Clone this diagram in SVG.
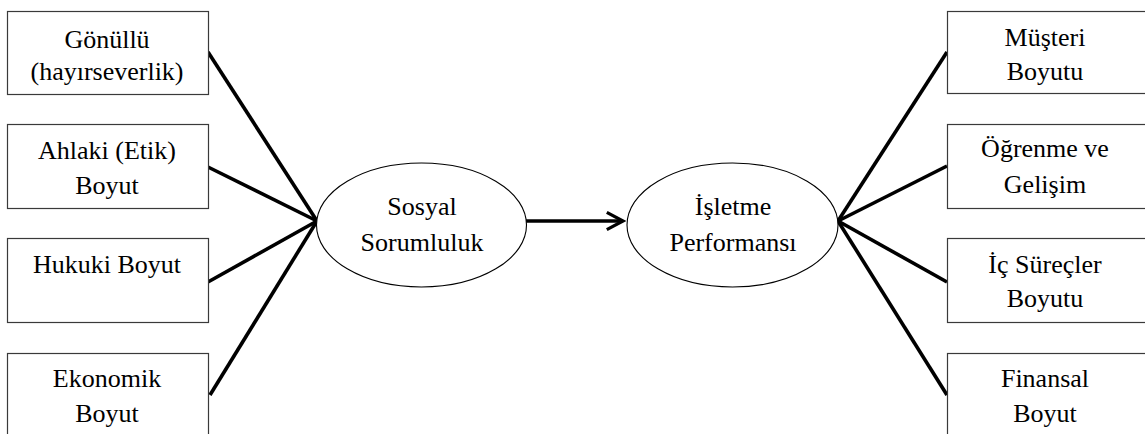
<svg xmlns="http://www.w3.org/2000/svg" width="1145" height="434" viewBox="0 0 1145 434">
  <defs>
    <style>
      .box { fill: #ffffff; stroke: #3a3a3a; stroke-width: 1.2; }
      .oval { fill: #ffffff; stroke: #000000; stroke-width: 1.1; }
      .lbl { font-family: "Liberation Serif", "DejaVu Serif", serif; font-size: 26px; fill: #000000; text-anchor: middle; }
      .link { fill: none; stroke: #000000; stroke-width: 3.6; stroke-linecap: butt; }
    </style>
    <marker id="chevron" viewBox="0 0 12 12" refX="10.5" refY="6" markerWidth="6" markerHeight="6" markerUnits="strokeWidth" orient="auto">
      <path d="M1.5 1.2 L10.5 6 L1.5 10.8" fill="none" stroke="#000000" stroke-width="1.8" stroke-linejoin="miter"/>
    </marker>
  </defs>
  <rect width="1145" height="434" fill="#ffffff"/>

  <!-- connectors -->
  <g id="connectors">
    <line class="link" x1="208" y1="52" x2="317" y2="221"/>
    <line class="link" x1="208" y1="167" x2="317" y2="221"/>
    <line class="link" x1="208" y1="282" x2="317" y2="221"/>
    <line class="link" x1="210" y1="395" x2="317" y2="221"/>
    <line class="link" x1="526" y1="221" x2="623" y2="221" marker-end="url(#chevron)"/>
    <line class="link" x1="947" y1="52" x2="838" y2="221"/>
    <line class="link" x1="947" y1="166" x2="838" y2="221"/>
    <line class="link" x1="947" y1="282" x2="838" y2="221"/>
    <line class="link" x1="947" y1="395" x2="838" y2="221"/>
  </g>

  <!-- left column -->
  <g id="gonullu">
    <rect class="box" x="7.5" y="11.5" width="201" height="83"/>
    <text class="lbl" x="107" y="48">Gönüllü</text>
    <text class="lbl" x="107" y="80">(hayırseverlik)</text>
  </g>
  <g id="ahlaki">
    <rect class="box" x="7.5" y="124.5" width="201" height="84"/>
    <text class="lbl" x="107" y="159">Ahlaki (Etik)</text>
    <text class="lbl" x="107" y="194">Boyut</text>
  </g>
  <g id="hukuki">
    <rect class="box" x="7.5" y="238.5" width="201" height="84"/>
    <text class="lbl" x="107" y="273">Hukuki Boyut</text>
  </g>
  <g id="ekonomik">
    <rect class="box" x="7.5" y="353.5" width="201" height="90"/>
    <text class="lbl" x="107" y="387">Ekonomik</text>
    <text class="lbl" x="107" y="422">Boyut</text>
  </g>

  <!-- central ovals -->
  <g id="sosyal-sorumluluk">
    <ellipse class="oval" cx="421.5" cy="225" rx="105" ry="62"/>
    <text class="lbl" x="422" y="215">Sosyal</text>
    <text class="lbl" x="422" y="251">Sorumluluk</text>
  </g>
  <g id="isletme-performansi">
    <ellipse class="oval" cx="732.5" cy="225" rx="105.5" ry="62"/>
    <text class="lbl" x="733" y="215">İşletme</text>
    <text class="lbl" x="733" y="251">Performansı</text>
  </g>

  <!-- right column -->
  <g id="musteri">
    <rect class="box" x="947.5" y="11.5" width="205" height="82"/>
    <text class="lbl" x="1045" y="46">Müşteri</text>
    <text class="lbl" x="1045" y="80">Boyutu</text>
  </g>
  <g id="ogrenme">
    <rect class="box" x="947.5" y="124.5" width="205" height="84"/>
    <text class="lbl" x="1045" y="157">Öğrenme ve</text>
    <text class="lbl" x="1045" y="193">Gelişim</text>
  </g>
  <g id="ic-surecler">
    <rect class="box" x="947.5" y="238.5" width="205" height="84"/>
    <text class="lbl" x="1045" y="273">İç Süreçler</text>
    <text class="lbl" x="1045" y="307">Boyutu</text>
  </g>
  <g id="finansal">
    <rect class="box" x="947.5" y="353.5" width="205" height="90"/>
    <text class="lbl" x="1045" y="387">Finansal</text>
    <text class="lbl" x="1045" y="422">Boyut</text>
  </g>
</svg>
